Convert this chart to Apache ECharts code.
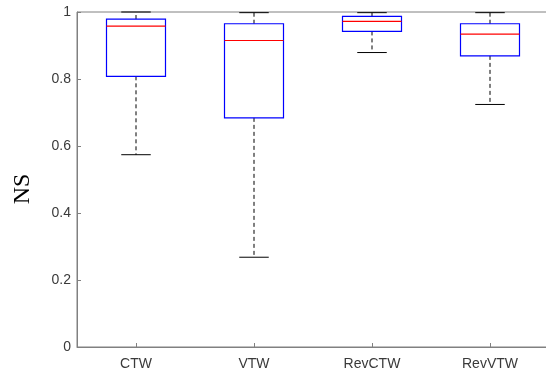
<!DOCTYPE html>
<html>
<head>
<meta charset="utf-8">
<script src="https://cdn.jsdelivr.net/npm/echarts@6/dist/echarts.min.js"></script>
<style>
  html, body { margin: 0; padding: 0; background: #fff; }
  #chart { width: 546px; height: 376px; }
</style>
</head>
<body>
<div id="chart"></div>
<script>
// Box plot statistics of NS for each method
const categories   = ['CTW', 'VTW', 'RevCTW', 'RevVTW'];
const lowerWhisker = [0.574, 0.268, 0.879, 0.724];
const q1           = [0.808, 0.684, 0.942, 0.869];
const median       = [0.958, 0.915, 0.972, 0.934];
const q3           = [0.979, 0.965, 0.987, 0.965];
const upperWhisker = [1.000, 0.998, 0.998, 0.998];
const yTicks       = [0, 0.2, 0.4, 0.6, 0.8, 1];

const boxData = categories.map((c, i) =>
  [i, lowerWhisker[i], q1[i], median[i], q3[i], upperWhisker[i]]);

function renderBox(params, api) {
  const i = api.value(0);
  const band = api.size([1, 0])[0];
  const boxW = band * 0.5;
  const capW = boxW * 0.5;
  const pLow = api.coord([i, api.value(1)]);
  const pQ1 = api.coord([i, api.value(2)]);
  const pMed = api.coord([i, api.value(3)]);
  const pQ3 = api.coord([i, api.value(4)]);
  const pHigh = api.coord([i, api.value(5)]);
  const cx = pQ1[0];
  const whisker = { stroke: '#000', lineWidth: 1, lineDash: [4, 3] };
  const solid = { stroke: '#000', lineWidth: 1 };
  return {
    type: 'group',
    children: [
      { type: 'line', shape: { x1: cx, y1: pQ3[1], x2: cx, y2: pHigh[1] }, style: whisker },
      { type: 'line', shape: { x1: cx, y1: pQ1[1], x2: cx, y2: pLow[1] }, style: whisker },
      { type: 'line', shape: { x1: cx - capW / 2, y1: pHigh[1], x2: cx + capW / 2, y2: pHigh[1] }, style: solid },
      { type: 'line', shape: { x1: cx - capW / 2, y1: pLow[1], x2: cx + capW / 2, y2: pLow[1] }, style: solid },
      { type: 'rect', shape: { x: cx - boxW / 2, y: pQ3[1], width: boxW, height: pQ1[1] - pQ3[1] },
        style: { fill: 'none', stroke: '#0000ff', lineWidth: 1.2 } },
      { type: 'line', shape: { x1: cx - boxW / 2, y1: pMed[1], x2: cx + boxW / 2, y2: pMed[1] },
        style: { stroke: '#ff0000', lineWidth: 1.2 } }
    ]
  };
}

const chart = echarts.init(document.getElementById('chart'), null, { renderer: 'canvas' });
chart.setOption({
  animation: false,
  backgroundColor: '#fff',
  grid: {
    left: 77, top: 12, width: 472, bottom: 29,
    outerBoundsMode: 'none',
    show: true, borderColor: '#808080', borderWidth: 1, backgroundColor: 'transparent'
  },
  graphic: [{
    type: 'text',
    x: 23, y: 189,
    rotation: Math.PI / 2,
    style: {
      text: 'NS',
      fontFamily: 'Liberation Serif', fontSize: 24, fill: '#000',
      align: 'center', verticalAlign: 'middle'
    }
  }],
  xAxis: {
    type: 'category',
    data: categories,
    boundaryGap: true,
    axisLine: { show: true, lineStyle: { color: '#808080', width: 1 } },
    axisTick: { show: true, inside: true, alignWithLabel: true, length: 4, lineStyle: { color: '#808080' } },
    axisLabel: { color: '#3a3a3a', fontFamily: 'Liberation Sans', fontSize: 14, margin: 10 },
    splitLine: { show: false }
  },
  yAxis: {
    type: 'value',
    min: 0, max: 1, interval: 0.2,
    axisLine: { show: true, lineStyle: { color: '#808080', width: 1 } },
    axisTick: { show: true, inside: true, length: 4, lineStyle: { color: '#808080' } },
    axisLabel: {
      color: '#3a3a3a', fontFamily: 'Liberation Sans', fontSize: 14, margin: 6,
      formatter: v => {
        const t = yTicks.find(k => Math.abs(k - v) < 1e-9);
        return t === undefined ? '' : String(t);
      }
    },
    splitLine: { show: false }
  },
  series: [{
    type: 'custom',
    renderItem: renderBox,
    data: boxData,
    clip: false,
    encode: { x: 0, y: [1, 2, 3, 4, 5] }
  }]
});
</script>
</body>
</html>
